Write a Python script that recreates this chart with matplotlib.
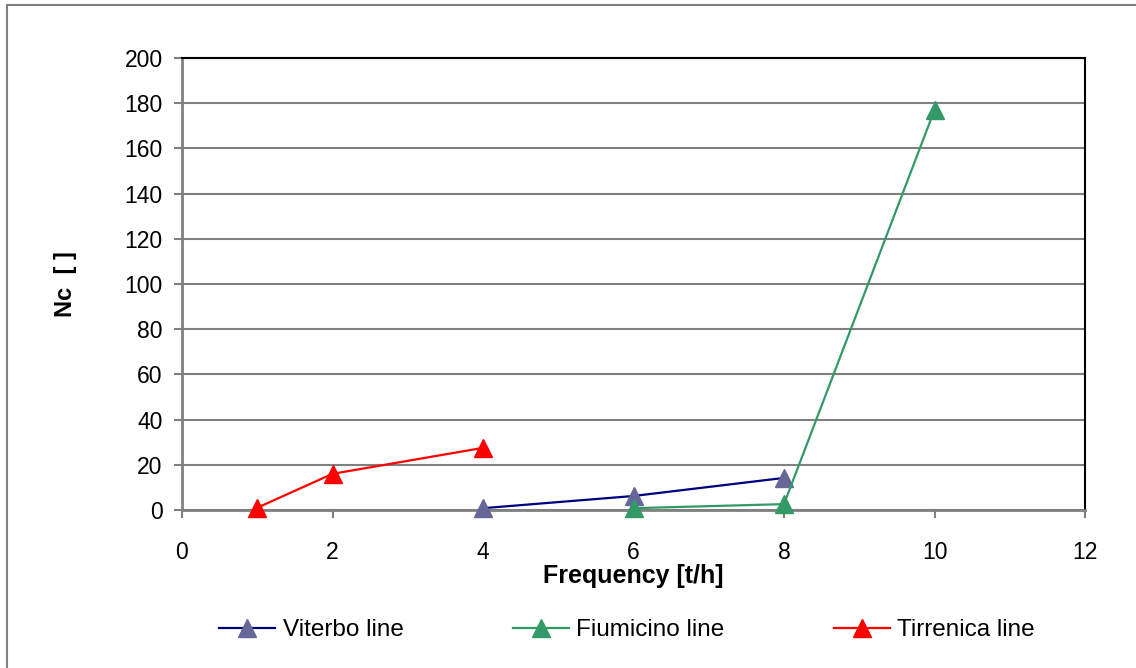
import matplotlib
matplotlib.use("Agg")
import matplotlib.pyplot as plt
from matplotlib.lines import Line2D
from matplotlib.patches import Rectangle

plt.rcParams['font.family'] = ['Liberation Sans', 'DejaVu Sans']

# Series: frequency [t/h] vs Nc
viterbo_x = [4, 6, 8]
viterbo_y = [0.8, 6.2, 14.2]
fiumicino_x = [6, 8, 10]
fiumicino_y = [0.8, 2.6, 177]
tirrenica_x = [1, 2, 4]
tirrenica_y = [1.0, 16, 27.5]

x_ticks = [0, 2, 4, 6, 8, 10, 12]
y_ticks = [0, 20, 40, 60, 80, 100, 120, 140, 160, 180, 200]
labels = ["Viterbo line", "Fiumicino line", "Tirrenica line"]

W, H = 1136, 668
fs = 16.5
fig = plt.figure(figsize=(W / 100, H / 100), dpi=100)
ax = fig.add_axes([182 / W, 1 - 510 / H, (1085 - 182) / W, (510 - 58) / H])

# Outer chart frame
fig.patches.append(Rectangle((7 / W, -0.1), 1.2, 1 - 5 / H + 0.1,
                             transform=fig.transFigure, fill=False,
                             edgecolor='#808080', lw=1.5))

ms = 13
styles = [
    dict(color='#000080', mfc='#666699', mec='#666699'),
    dict(color='#339966', mfc='#339966', mec='#339966'),
    dict(color='#FF0000', mfc='#FF0000', mec='#FF0000'),
]
series = [(viterbo_x, viterbo_y), (fiumicino_x, fiumicino_y), (tirrenica_x, tirrenica_y)]
for (xs, ys), st in zip(series, styles):
    ax.plot(xs, ys, lw=1.6, marker='^', ms=ms, clip_on=False, zorder=3, **st)

ax.set_xlim(0, 12)
ax.set_ylim(0, 200)
ax.set_xticks(x_ticks)
ax.set_yticks(y_ticks)
ax.yaxis.grid(True, color='#808080', lw=1.5)
ax.set_axisbelow(True)

for s in ['top', 'right']:
    ax.spines[s].set_color('black')
    ax.spines[s].set_linewidth(1.5)
for s in ['left', 'bottom']:
    ax.spines[s].set_color('#808080')
    ax.spines[s].set_linewidth(2)

ax.tick_params(axis='both', direction='out', length=6, width=1.5,
               color='#808080', labelsize=fs, labelcolor='black')
ax.tick_params(axis='x', pad=16)
ax.tick_params(axis='y', pad=8)

ax.set_xlabel("Frequency [t/h]", fontsize=18, fontweight='bold', labelpad=0)
ax.set_ylabel("Nc  [ ]", fontsize=17, fontweight='bold', labelpad=34)

handles = [Line2D([], [], lw=1.6, marker='^', ms=ms, **st) for st in styles]
fig.legend(handles, labels, loc='center', bbox_to_anchor=(627 / W, 1 - 630 / H),
           ncol=3, frameon=False, fontsize=17.5, handlelength=2.3,
           handletextpad=0.3, columnspacing=4.5)

fig.savefig("out.png", dpi=100)
